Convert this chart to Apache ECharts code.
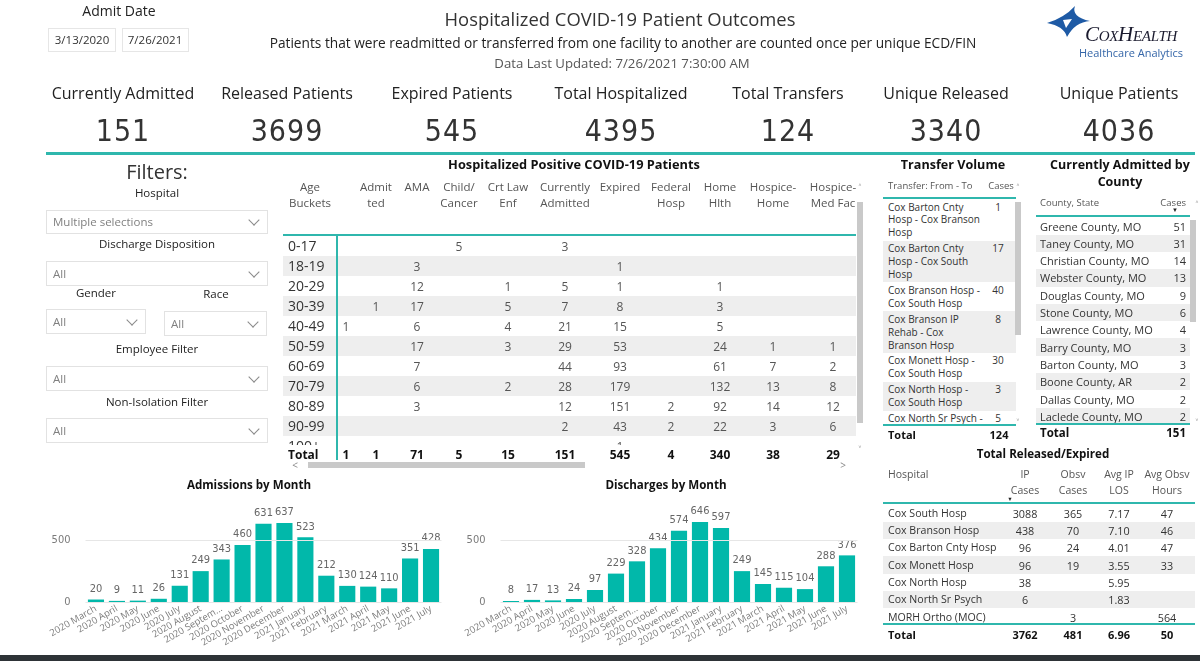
<!DOCTYPE html>
<html><head><meta charset="utf-8">
<script src="https://cdn.jsdelivr.net/npm/echarts@6/dist/echarts.min.js"></script>
<style>
html,body{margin:0;padding:0;width:1200px;height:661px;overflow:hidden;background:#fff;}
#chart{position:absolute;left:0;top:0;width:1200px;height:661px;}
#ui{position:absolute;left:0;top:0;width:1200px;height:661px;}
</style></head><body>
<div id="chart"></div>
<div id="ui"></div>
<script>
// ---------------- DATA ----------------
const months = ['2020 March','2020 April','2020 May','2020 June','2020 July','2020 August','2020 September','2020 October','2020 November','2020 December','2021 January','2021 February','2021 March','2021 April','2021 May','2021 June','2021 July'];
const admissions = [20, 9, 11, 26, 131, 249, 343, 460, 631, 637, 523, 212, 130, 124, 110, 351, 428];
const discharges = [8, 17, 13, 24, 97, 229, 328, 434, 574, 646, 597, 249, 145, 115, 104, 288, 376];
const yTicks = [0, 500];

const kpiLabels = ['Currently Admitted','Released Patients','Expired Patients','Total Hospitalized','Total Transfers','Unique Released','Unique Patients'];
const kpiValues = [151, 3699, 545, 4395, 124, 3340, 4036];

const ageBuckets = ['0-17','18-19','20-29','30-39','40-49','50-59','60-69','70-79','80-89','90-99','100+'];
const dispHeaders = [[''],['Admit','ted'],['AMA'],['Child/','Cancer'],['Crt Law','Enf'],['Currently','Admitted'],['Expired'],['Federal','Hosp'],['Home','Hlth'],['Hospice-','Home'],['Hospice-','Med Fac']];
const ageValues = [
  [null,null,null,5,null,3,null,null,null,null,null],
  [null,null,3,null,null,null,1,null,null,null,null],
  [null,null,12,null,1,5,1,null,1,null,null],
  [null,1,17,null,5,7,8,null,3,null,null],
  [1,null,6,null,4,21,15,null,5,null,null],
  [null,null,17,null,3,29,53,null,24,1,1],
  [null,null,7,null,null,44,93,null,61,7,2],
  [null,null,6,null,2,28,179,null,132,13,8],
  [null,null,3,null,null,12,151,2,92,14,12],
  [null,null,null,null,null,2,43,2,22,3,6],
  [null,null,null,null,null,null,1,null,null,null,null]
];
const ageTotals = [1,1,71,5,15,151,545,4,340,38,29];

const transferRoutes = ['Cox Barton Cnty Hosp - Cox Branson Hosp','Cox Barton Cnty Hosp - Cox South Hosp','Cox Branson Hosp - Cox South Hosp','Cox Branson IP Rehab - Cox Branson Hosp','Cox Monett Hosp - Cox South Hosp','Cox North Hosp - Cox South Hosp','Cox North Sr Psych - Cox South Hosp'];
const transferCases = [1, 17, 40, 8, 30, 3, 5];
const transferTotal = 124;

const counties = ['Greene County, MO','Taney County, MO','Christian County, MO','Webster County, MO','Douglas County, MO','Stone County, MO','Lawrence County, MO','Barry County, MO','Barton County, MO','Boone County, AR','Dallas County, MO','Laclede County, MO'];
const countyCases = [51, 31, 14, 13, 9, 6, 4, 3, 3, 2, 2, 2];
const countyTotal = 151;

const hospitals = ['Cox South Hosp','Cox Branson Hosp','Cox Barton Cnty Hosp','Cox Monett Hosp','Cox North Hosp','Cox North Sr Psych','MORH Ortho (MOC)'];
const ipCases = [3088, 438, 96, 96, 38, 6, null];
const obsvCases = [365, 70, 24, 19, null, null, 3];
const avgIpLos = ['7.17','7.10','4.01','3.55','5.95','1.83', null];
const avgObsvHours = [47, 46, 47, 33, null, null, 564];
const releasedTotals = [3762, 481, '6.96', 50];

// ---------------- HELPERS ----------------
const F = "'Open Sans','Noto Sans',sans-serif";
const NUMF = "'Liberation Sans Narrow','DejaVu Sans Condensed',sans-serif";
const TEAL = '#2fb7ad';
const STRIPE = '#eeeeee';
const ui = document.getElementById('ui');
function box(x,y,w,h,st,parent){const d=document.createElement('div');d.style.cssText=`position:absolute;left:${x}px;top:${y}px;width:${w}px;height:${h}px;box-sizing:border-box;`+(st||'');(parent||ui).appendChild(d);return d;}
function txt(s,x,y,o){o=o||{};const size=o.size||12;const lh=Math.round(size*1.4);const w=o.w||600;const align=o.align||'left';let left=x;if(align==='center')left=x-w/2;else if(align==='right')left=x-w;const d=document.createElement('div');d.style.cssText=`position:absolute;left:${left}px;top:${y-lh/2}px;width:${w}px;height:${lh}px;line-height:${lh}px;text-align:${align};white-space:nowrap;font-family:${o.family||F};font-size:${size}px;color:${o.color||'#333'};font-weight:${o.weight||400};`+(o.extra||'');d.textContent=(s===null||s===undefined)?'':String(s);(o.parent||ui).appendChild(d);return d;}
function dropdown(x,y,w,h,label){const b=box(x,y,w,h,'border:1px solid #e2e2e2;background:#fff;');txt(label,6,h/2-1,{size:11.5,color:'#808080',parent:b});box(w-19,h/2-7,8,8,'border-right:1px solid #8a8a8a;border-bottom:1px solid #8a8a8a;transform:rotate(45deg);',b);return b;}
function chevUp(x,y){txt('\u02C4',x,y,{size:10,color:'#888',align:'center',w:20});}
function chevDown(x,y){txt('\u02C5',x,y,{size:10,color:'#888',align:'center',w:20});}

// ---------------- HEADER ----------------
txt('Admit Date',119,11,{size:14,align:'center',color:'#222'});
box(48,28,68,24,'border:1px solid #e6e6e6;');
box(122,28,67,24,'border:1px solid #e6e6e6;');
txt('3/13/2020',82,40,{size:11.5,align:'center',w:68,color:'#333'});
txt('7/26/2021',155,40,{size:11.5,align:'center',w:68,color:'#333'});
txt('Hospitalized COVID-19 Patient Outcomes',620,19,{size:18.4,align:'center',w:600,color:'#333'});
txt('Patients that were readmitted or transferred from one facility to another are counted once per unique ECD/FIN',623,42,{size:13.7,align:'center',w:800,color:'#222'});
txt('Data Last Updated: 7/26/2021 7:30:00 AM',622,63,{size:13.2,align:'center',w:400,color:'#555'});

// logo
(function(){const ns='http://www.w3.org/2000/svg';const s=document.createElementNS(ns,'svg');s.setAttribute('width','50');s.setAttribute('height','40');s.style.cssText='position:absolute;left:1044px;top:2px;';const p=document.createElementNS(ns,'path');p.setAttribute('d','M31,4 Q27,15 46,19 Q31,20 23,35 Q20,24 3,21 Q20,16 31,4 Z');p.setAttribute('fill','#1e5aa5');s.appendChild(p);const p2=document.createElementNS(ns,'path');p2.setAttribute('d','M19,18 L28,17 L22,26 Z');p2.setAttribute('fill','#fff');s.appendChild(p2);ui.appendChild(s);})();
txt('CoxHealth',1131,34,{size:21,align:'center',w:140,family:"'Liberation Serif','DejaVu Serif',serif",color:'#1a1a2e',extra:'font-style:italic;font-variant:small-caps;letter-spacing:-0.3px;'});
txt('Healthcare Analytics',1131,52,{size:11,align:'center',w:140,color:'#3566a8'});

// KPIs
const kpiCenters = [123,287,452,621,788,946,1119];
kpiLabels.forEach((l,i)=>{
  txt(l,kpiCenters[i],93,{size:16,align:'center',w:200,color:'#222'});
  txt(kpiValues[i],kpiCenters[i],131,{size:30,align:'center',w:200,color:'#333',family:"'DejaVu Sans Condensed','DejaVu Sans',sans-serif",extra:'letter-spacing:1px;'});
});
box(46,152,1149,3,'background:'+TEAL+';');

// ---------------- FILTERS ----------------
txt('Filters:',157,172,{size:20,align:'center',w:200,color:'#333'});
txt('Hospital',157,193,{size:11.5,align:'center',w:200,color:'#222'});
dropdown(46,210,222,24,'Multiple selections');
txt('Discharge Disposition',157,244,{size:11.5,align:'center',w:220,color:'#222'});
dropdown(46,261,222,25,'All');
txt('Gender',96,293,{size:11.5,align:'center',w:100,color:'#222'});
txt('Race',216,294,{size:11.5,align:'center',w:100,color:'#222'});
dropdown(46,309,100,25,'All');
dropdown(164,311,103,25,'All');
txt('Employee Filter',157,349,{size:11.5,align:'center',w:220,color:'#222'});
dropdown(46,366,222,25,'All');
txt('Non-Isolation Filter',157,402,{size:11.5,align:'center',w:220,color:'#222'});
dropdown(46,418,222,25,'All');

// ---------------- MAIN TABLE ----------------
txt('Hospitalized Positive COVID-19 Patients',574,164,{size:12.8,align:'center',w:400,weight:700,color:'#111'});
const colX = [346,376,417,459,508,565,620,671,720,773,833];
const mt = box(283,175,573,300,'overflow:hidden;');
const MX = 283, MY = 175;
txt('Age',310-MX,187-MY,{size:11.5,align:'center',w:80,color:'#555',parent:mt});
txt('Buckets',310-MX,203-MY,{size:11.5,align:'center',w:80,color:'#555',parent:mt});
dispHeaders.forEach((h,c)=>{h.forEach((line,k)=>txt(line,colX[c]-MX,187+16*k-MY,{size:11.5,align:'center',w:70,color:'#555',parent:mt}));});
box(0,234-MY,573,2,'background:'+TEAL+';',mt);
const body = box(0,236-MY,573,445-236,'overflow:hidden;',mt);
ageBuckets.forEach((a,r)=>{
  const cy = 246 + 20*r - 236;
  if(r%2===1) box(0,cy-10,573,20,'background:'+STRIPE+';',body);
  txt(a,5,cy,{size:14,color:'#333',parent:body});
  ageValues[r].forEach((v,c)=>{ if(v!==null) txt(v,colX[c]-MX,cy,{size:12,align:'center',w:60,color:'#555',parent:body}); });
});
txt('Total',5,454-MY,{size:12,weight:700,color:'#111',parent:mt});
ageTotals.forEach((v,c)=>txt(v,colX[c]-MX,454-MY,{size:12,align:'center',w:60,weight:700,color:'#111',parent:mt}));
box(336,234,2,226,'background:'+TEAL+';');
box(857,202,6,221,'background:#c9c9c9;');
chevUp(860,188); chevDown(860,450);
box(308,462,277,6,'background:#c9c9c9;');
txt('<',295,465,{size:10,color:'#888',align:'center',w:20});
txt('>',843,465,{size:10,color:'#888',align:'center',w:20});

// ---------------- TRANSFER VOLUME ----------------
txt('Transfer Volume',953,165,{size:12.6,align:'center',w:200,weight:700,color:'#111'});
txt('Transfer: From - To',888,185,{size:9.5,color:'#555'});
txt('Cases',1001,185,{size:9.5,align:'center',w:40,color:'#555'});
box(883,197,133,2,'background:'+TEAL+';');
const tv = box(883,199,133,225,'overflow:hidden;');
transferRoutes.forEach((r,i)=>{
  const row=document.createElement('div');
  row.style.cssText=`position:relative;width:133px;padding:1.5px 0 1.5px 5px;box-sizing:border-box;background:${i%2?STRIPE:'#fff'};display:flex;`;
  const n=document.createElement('div');n.style.cssText=`width:95px;font-family:${F};font-size:10px;line-height:12.9px;color:#333;`;n.textContent=r;
  const c=document.createElement('div');c.style.cssText=`width:30px;text-align:center;font-family:${F};font-size:10px;line-height:12.9px;color:#333;`;c.textContent=transferCases[i];
  row.appendChild(n);row.appendChild(c);tv.appendChild(row);
});
box(883,424,133,2,'background:'+TEAL+';');
txt('Total',888,434,{size:11,weight:700,color:'#111'});
txt(transferTotal,999,434,{size:11,align:'center',w:40,weight:700,color:'#111'});
box(1015,202,6,133,'background:#c9c9c9;');
chevUp(1018,188); chevDown(1018,423);

// ---------------- COUNTY ----------------
txt('Currently Admitted by',1120,165,{size:12.5,align:'center',w:200,weight:700,color:'#111'});
txt('County',1120,182,{size:12.5,align:'center',w:200,weight:700,color:'#111'});
txt('County, State',1040,202,{size:9.5,color:'#555'});
txt('Cases',1186,202,{size:9.5,align:'right',w:60,color:'#555'});
txt('\u25BC',1175,210,{size:6,align:'center',w:20,color:'#222'});
box(1036,215,154,2,'background:'+TEAL+';');
const ct = box(1036,217,154,206,'overflow:hidden;');
counties.forEach((cn,i)=>{
  const cy = 226 + 17.3*i - 217;
  if(i%2===1) box(0,cy-8.65,154,17.3,'background:'+STRIPE+';',ct);
  txt(cn,4,cy,{size:11,color:'#333',parent:ct});
  txt(countyCases[i],150,cy,{size:11,align:'right',w:40,color:'#333',parent:ct});
});
box(1036,423,154,2,'background:'+TEAL+';');
txt('Total',1040,433,{size:11.5,weight:700,color:'#111'});
txt(countyTotal,1186,433,{size:11.5,align:'right',w:60,weight:700,color:'#111'});
box(1190,220,6,102,'background:#c9c9c9;');
chevUp(1197,205); chevDown(1197,423);

// ---------------- RELEASED / EXPIRED ----------------
txt('Total Released/Expired',1043,454,{size:11.6,align:'center',w:220,weight:700,color:'#111'});
const rcX = [1025,1073,1119,1167];
txt('Hospital',888,474,{size:10.5,color:'#555'});
[['IP','Cases'],['Obsv','Cases'],['Avg IP','LOS'],['Avg Obsv','Hours']].forEach((h,c)=>{h.forEach((l,k)=>txt(l,rcX[c],474+16*k,{size:10.5,align:'center',w:70,color:'#555'}));});
txt('\u25BC',1010,499,{size:5.5,align:'center',w:20,color:'#222'});
box(883,502,312,2,'background:'+TEAL+';');
hospitals.forEach((h,i)=>{
  const cy = 513 + 17.35*i;
  if(i%2===1) box(883,cy-8.7,312,17.4,'background:'+STRIPE+';');
  txt(h,888,cy,{size:10.6,color:'#333'});
  [ipCases[i],obsvCases[i],avgIpLos[i],avgObsvHours[i]].forEach((v,c)=>{ if(v!==null) txt(v,rcX[c],cy,{size:10.8,align:'center',w:60,color:'#333'}); });
});
box(883,623,312,2,'background:'+TEAL+';');
txt('Total',888,634,{size:11,weight:700,color:'#111'});
releasedTotals.forEach((v,c)=>txt(v,rcX[c],634,{size:11,align:'center',w:60,weight:700,color:'#111'}));

// bottom bar
box(0,655,1200,6,'background:#2e3337;');

// ---------------- CHARTS ----------------
const chart = echarts.init(document.getElementById('chart'));
const BAR = '#01B8AA';
function xAxisCfg(gi){return {type:'category',gridIndex:gi,data:months,axisLine:{show:false},axisTick:{show:false},
  axisLabel:{interval:0,rotate:30,margin:6,color:'#7a7a7a',fontSize:9.5,fontFamily:F,width:72,overflow:'truncate',ellipsis:'...'}};}
function yAxisCfg(gi){return {type:'value',gridIndex:gi,min:0,max:700,interval:500,splitLine:{show:false},axisLine:{show:false},axisTick:{show:false},
  axisLabel:{margin:15,color:'#7a7a7a',fontSize:11,fontFamily:NUMF,formatter:v=>(yTicks.indexOf(v)>=0?String(v):'')}};}
function barSeries(data,gi){return {type:'bar',xAxisIndex:gi,yAxisIndex:gi,data:data,barWidth:'77%',itemStyle:{color:BAR},
  label:{show:true,position:'top',distance:5,color:'#666',fontSize:11,fontFamily:NUMF},
  markLine:{silent:true,symbol:'none',label:{show:false},lineStyle:{color:'#e6e6e6',type:'solid',width:1},data:yTicks.map(t=>({yAxis:t}))}};}
chart.setOption({
  animation:false,
  title:[
    {text:'Admissions by Month',left:244,top:475,textAlign:'center',textStyle:{fontSize:11.6,fontWeight:'bold',color:'#111',fontFamily:F}},
    {text:'Discharges by Month',left:661,top:475,textAlign:'center',textStyle:{fontSize:11.6,fontWeight:'bold',color:'#111',fontFamily:F}}
  ],
  grid:[
    {left:85.5,width:356,top:515.2,height:86.8},
    {left:500.5,width:357,top:515.2,height:86.8}
  ],
  xAxis:[xAxisCfg(0),xAxisCfg(1)],
  yAxis:[yAxisCfg(0),yAxisCfg(1)],
  series:[barSeries(admissions,0),barSeries(discharges,1)]
});
</script>
</body></html>
